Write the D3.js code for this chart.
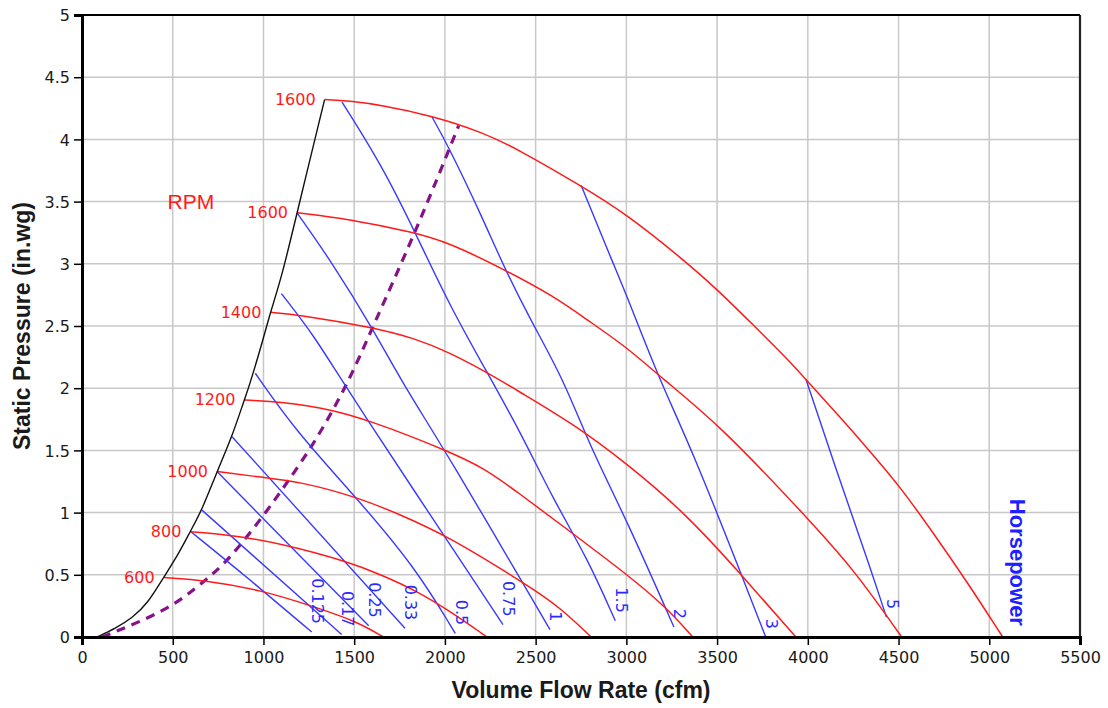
<!DOCTYPE html>
<html>
<head>
<meta charset="utf-8">
<script src="https://cdn.jsdelivr.net/npm/d3@7"></script>
<style>
  body { margin: 0; background: #fff; }
  svg { display: block; }
</style>
</head>
<body>
<svg id="chart" width="1108" height="708"></svg>
<script>
// Fan performance map: static pressure (in.wg) against volume flow rate (cfm)

// Axis ticks
const xTicks = [0, 500, 1000, 1500, 2000, 2500, 3000, 3500, 4000, 4500, 5000, 5500];
const yTicks = [0, 0.5, 1, 1.5, 2, 2.5, 3, 3.5, 4, 4.5, 5];

// Fan speed curves, [cfm, in.wg]
const rpmLabels = ["600", "800", "1000", "1200", "1400", "1600", "1600"];
const rpm600 = [[450, 0.478], [680, 0.456], [992, 0.376], [1286, 0.24], [1506, 0.13], [1662, 0]];
const rpm800 = [[597, 0.846], [827, 0.82], [1102, 0.75], [1470, 0.604], [1653, 0.497], [1837, 0.376], [2021, 0.215], [2232, 0]];
const rpm1000 = [[744, 1.33], [1010, 1.28], [1194, 1.25], [1506, 1.13], [1745, 0.99], [2021, 0.805], [2351, 0.51], [2480, 0.39], [2632, 0.24], [2806, 0]];
const rpm1200 = [[895, 1.906], [1102, 1.89], [1378, 1.83], [1598, 1.73], [1837, 1.60], [2002, 1.50], [2204, 1.37], [2414, 1.15], [2651, 0.89], [2998, 0.51], [3219, 0.24], [3366, 0]];
const rpm1400 = [[1038, 2.61], [1194, 2.59], [1598, 2.49], [1837, 2.40], [2021, 2.29], [2241, 2.12], [2412, 1.97], [2700, 1.72], [2998, 1.40], [3329, 0.99], [3622, 0.52], [3934, 0]];
const rpm1600 = [[1185, 3.41], [1470, 3.36], [1837, 3.25], [2021, 3.17], [2333, 2.95], [2599, 2.74], [2783, 2.55], [3002, 2.33], [3196, 2.08], [3517, 1.70], [3976, 0.99], [4251, 0.55], [4517, 0]];
const rpmTop = [[1337, 4.32], [1470, 4.31], [1653, 4.275], [1929, 4.19], [2204, 4.06], [2416, 3.91], [2746, 3.63], [3002, 3.40], [3333, 3.01], [3496, 2.80], [3698, 2.51], [3884, 2.24], [3990, 2.07], [4176, 1.77], [4350, 1.48], [4513, 1.20], [4694, 0.83], [4875, 0.45], [5074, 0]];
const rpmCurves = [rpm600, rpm800, rpm1000, rpm1200, rpm1400, rpm1600, rpmTop];

// Constant brake horsepower lines, [cfm, in.wg]
const hpLabels = ["0.125", "0.17", "0.25", "0.33", "0.5", "0.75", "1", "1.5", "2", "3", "5"];
const hp0125 = [[597, 0.85], [918, 0.47], [1266, 0.04]];
const hp017 = [[661, 1.02], [1431, 0.02]];
const hp025 = [[744, 1.33], [1580, 0.09]];
const hp033 = [[827, 1.61], [1780, 0.07]];
const hp05 = [[955, 2.12], [1176, 1.66], [1506, 1.13], [1837, 0.56], [2057, 0.03]];
const hp075 = [[1099, 2.76], [1286, 2.41], [1451, 2.01], [2320, 0.10]];
const hp1 = [[1185, 3.41], [1378, 3.01], [1598, 2.49], [1782, 2.0], [2002, 1.50], [2579, 0.06]];
const hp15 = [[1433, 4.30], [1653, 3.79], [1837, 3.25], [2021, 2.68], [2204, 2.20], [2412, 1.66], [2599, 1.10], [2783, 0.64], [2939, 0.13]];
const hp2 = [[1929, 4.18], [2021, 3.94], [2204, 3.38], [2333, 2.95], [2471, 2.55], [2654, 2.07], [2800, 1.53], [3002, 0.94], [3262, 0.08]];
const hp3 = [[2751, 3.63], [2928, 3.0], [3020, 2.68], [3176, 2.09], [3369, 1.48], [3626, 0.53], [3768, 0]];
const hp5 = [[3990, 2.07], [4176, 1.26], [4341, 0.57], [4433, 0.16]];
const hpLines = [hp0125, hp017, hp025, hp033, hp05, hp075, hp1, hp15, hp2, hp3, hp5];

// Stall (surge) boundary and the dashed system line
const surgeLine = [[83, 0], [184, 0.07], [276, 0.15], [367, 0.28], [450, 0.48], [533, 0.67], [597, 0.85], [661, 1.02], [744, 1.33], [827, 1.61], [895, 1.91], [918, 2.0], [992, 2.36], [1038, 2.61], [1102, 2.90], [1185, 3.41], [1337, 4.32]];
const systemLine = [[110, 0], [478, 0.215], [680, 0.456], [808, 0.617], [1010, 0.993], [1139, 1.26], [1286, 1.57], [1470, 2.05], [1598, 2.48], [1837, 3.25], [2076, 4.11]];

// ---- layout ----
const W = 1108, H = 708;
const margin = { left: 82, right: 28, top: 15, bottom: 71 };
const innerW = W - margin.left - margin.right;
const innerH = H - margin.top - margin.bottom;

const svg = d3.select("#chart");
svg.append("rect").attr("width", W).attr("height", H).attr("fill", "#fff");

const x = d3.scaleLinear().domain([0, 5500]).range([0, innerW]);
const y = d3.scaleLinear().domain([0, 5]).range([innerH, 0]);

const g = svg.append("g").attr("transform", `translate(${margin.left},${margin.top})`);

// grid
g.append("g").selectAll("line").data(xTicks.slice(1, -1)).join("line")
  .attr("x1", d => x(d)).attr("x2", d => x(d))
  .attr("y1", 0).attr("y2", innerH)
  .attr("stroke", "#c8c8c8").attr("stroke-width", 1.5);
g.append("g").selectAll("line").data(yTicks.slice(1, -1)).join("line")
  .attr("x1", 0).attr("x2", innerW)
  .attr("y1", d => y(d)).attr("y2", d => y(d))
  .attr("stroke", "#c8c8c8").attr("stroke-width", 1.5);

// clip the curves to the plotting area
svg.append("defs").append("clipPath").attr("id", "plotClip")
  .append("rect").attr("x", 0).attr("y", 0).attr("width", innerW).attr("height", innerH);
const plot = g.append("g").attr("clip-path", "url(#plotClip)");

const smooth = d3.line().x(d => x(d[0])).y(d => y(d[1])).curve(d3.curveBasis);

// dashed system line
plot.append("path").datum(systemLine)
  .attr("d", smooth).attr("fill", "none")
  .attr("stroke", "#86128a").attr("stroke-width", 3.2)
  .attr("stroke-dasharray", "9,7");

// horsepower lines
plot.append("g").selectAll("path").data(hpLines).join("path")
  .attr("d", smooth).attr("fill", "none")
  .attr("stroke", "#3a3aff").attr("stroke-width", 1.4);

// fan speed curves
plot.append("g").selectAll("path").data(rpmCurves).join("path")
  .attr("d", smooth).attr("fill", "none")
  .attr("stroke", "#ff1a1a").attr("stroke-width", 1.5);

// surge boundary
plot.append("path").datum(surgeLine)
  .attr("d", smooth).attr("fill", "none")
  .attr("stroke", "#111").attr("stroke-width", 1.4);

// rpm labels at the left end of each speed curve
g.append("g").selectAll("text").data(rpmCurves).join("text")
  .attr("x", d => x(d[0][0]) - 9)
  .attr("y", d => y(d[0][1]))
  .attr("text-anchor", "end")
  .attr("dominant-baseline", "central")
  .attr("font-family", "DejaVu Sans, Verdana, sans-serif")
  .attr("font-size", 16)
  .attr("fill", "#ff1a1a")
  .text((d, i) => rpmLabels[i]);

// horsepower labels, rotated, beside the lower end of each line
g.append("g").selectAll("text").data(hpLines).join("text")
  .attr("transform", d => {
    const e = d[d.length - 1];
    return `translate(${x(e[0]) + 6},${y(e[1]) - 8}) rotate(90)`;
  })
  .attr("text-anchor", "end")
  .attr("dominant-baseline", "central")
  .attr("font-family", "DejaVu Sans, Verdana, sans-serif")
  .attr("font-size", 16)
  .attr("fill", "#2a2aff")
  .text((d, i) => hpLabels[i]);

// curve family titles
g.append("text")
  .attr("x", x(600)).attr("y", y(3.5))
  .attr("text-anchor", "middle").attr("dominant-baseline", "central")
  .attr("font-family", "Liberation Sans, Arial, sans-serif")
  .attr("font-size", 21).attr("fill", "#ff1a1a")
  .text("RPM");

g.append("text")
  .attr("transform", `translate(${x(5153)},${y(0.6)}) rotate(90)`)
  .attr("text-anchor", "middle").attr("dominant-baseline", "central")
  .attr("font-family", "Liberation Sans, Arial, sans-serif")
  .attr("font-size", 22).attr("font-weight", "bold").attr("fill", "#1f1fff")
  .text("Horsepower");

// frame: top and right borders
g.append("line").attr("x1", 0).attr("x2", innerW).attr("y1", 0).attr("y2", 0)
  .attr("stroke", "#000").attr("stroke-width", 2);
g.append("line").attr("x1", innerW).attr("x2", innerW).attr("y1", 0).attr("y2", innerH)
  .attr("stroke", "#222").attr("stroke-width", 2.2);

// axes
const xAxis = d3.axisBottom(x).tickValues(xTicks).tickFormat(d => String(d))
  .tickSize(8).tickPadding(7);
const yAxis = d3.axisLeft(y).tickValues(yTicks).tickFormat(d => String(d))
  .tickSize(8).tickPadding(4);

const gx = g.append("g").attr("transform", `translate(0,${innerH})`).call(xAxis);
const gy = g.append("g").call(yAxis);

[gx, gy].forEach(a => {
  a.select(".domain").attr("stroke", "#000").attr("stroke-width", 3);
  a.selectAll(".tick line").attr("stroke", "#000").attr("stroke-width", 1.5);
  a.selectAll(".tick text")
    .attr("font-family", "DejaVu Sans, Verdana, sans-serif")
    .attr("font-size", 16).attr("fill", "#1a1a1a");
});
gy.selectAll(".tick text").attr("dy", "0.36em");

// axis titles
svg.append("text")
  .attr("x", margin.left + innerW / 2).attr("y", 698)
  .attr("text-anchor", "middle")
  .attr("font-family", "Liberation Sans, Arial, sans-serif")
  .attr("font-size", 23).attr("font-weight", "bold").attr("fill", "#1a1a1a")
  .text("Volume Flow Rate (cfm)");

svg.append("text")
  .attr("transform", `translate(30,${margin.top + innerH / 2}) rotate(-90)`)
  .attr("text-anchor", "middle")
  .attr("font-family", "Liberation Sans, Arial, sans-serif")
  .attr("font-size", 23).attr("font-weight", "bold").attr("fill", "#1a1a1a")
  .text("Static Pressure (in.wg)");
</script>
</body>
</html>
